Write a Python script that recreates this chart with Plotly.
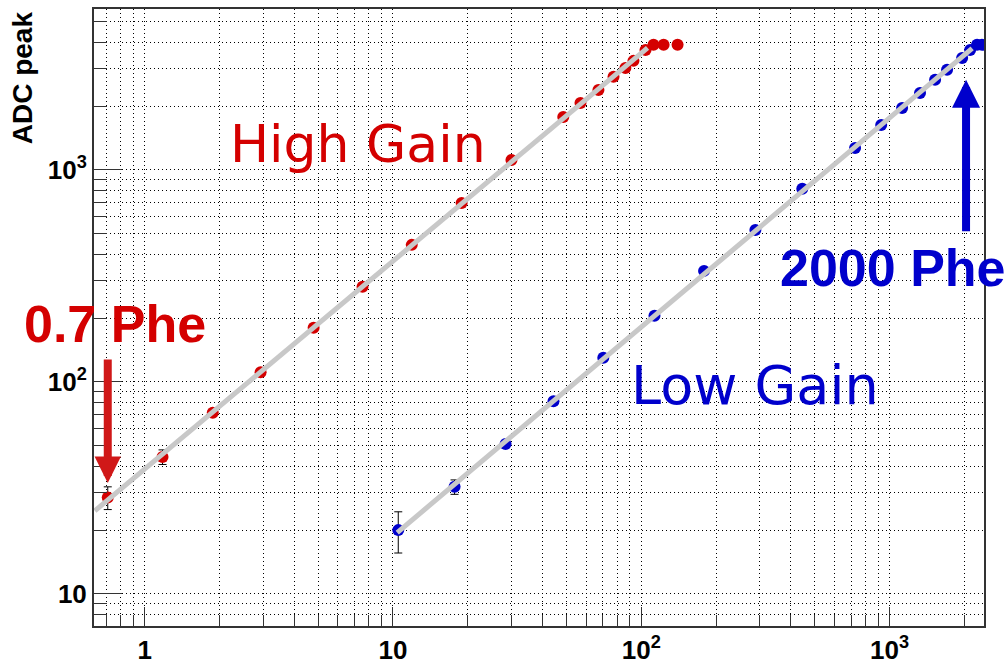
import numpy as np
import plotly.graph_objects as go

# ---------------- data ----------------
hg_phe = [0.71, 1.18, 1.88, 2.93, 4.79, 7.54, 11.9, 18.9, 30.0, 48.5, 56.9, 67.2,
          77.3, 86.3, 93.0, 104, 112, 123, 140]
hg_adc = [28.5, 44.3, 71.5, 111, 180, 281, 443, 698, 1113, 1778, 2070, 2382,
          2748, 3027, 3268, 3680, 3890, 3890, 3890]
hg_err = [3.5, 3.5, 1.5, 2, 2, 3, 4, 5, 6, 8, 8, 9, 10, 10, 10, 10, 10, 10, 10]

lg_phe = [10.5, 17.7, 28.4, 44.3, 70.3, 113, 179, 288, 445, 726, 925, 1123, 1326,
          1525, 1704, 1959, 2110, 2250, 2356, 2450]
lg_adc = [20.0, 32.0, 51.0, 81.0, 130, 205, 334, 521, 814, 1270, 1630, 1958, 2307,
          2660, 2965, 3370, 3680, 3890, 3890, 3890]
lg_err = [4.4, 2.5, 1.5, 2, 2, 3, 4, 5, 6, 8, 8, 9, 10, 10, 10, 10, 10, 10, 10, 10]

hg_fit_range = [0.63, 106]
lg_fit_range = [10.4, 2150]
hg_sat = 3800   # points at/above this ADC are saturated (excluded from fit)

x_ticks = [1, 10, 100, 1000]
x_ticktext = ["1", "10", "10<sup>2</sup>", "10<sup>3</sup>"]
y_ticks = [10, 100, 1000]
y_ticktext = ["10", "10<sup>2</sup>", "10<sup>3</sup>"]
x_range = [0.625, 2400]
y_range = [7.06, 5740]

RED = "#d40000"
BLUE = "#0000cc"
GRAY = "#c8c8c8"
GRID = "#000000"


def minor_vals(lo, hi):
    vals = []
    for e in range(int(np.floor(np.log10(lo))), int(np.ceil(np.log10(hi))) + 1):
        for k in range(2, 10):
            v = k * 10 ** e
            if lo <= v <= hi:
                vals.append(v)
    return vals


def fit_line(xs, ys, rng):
    xs = np.array(xs, float)
    ys = np.array(ys, float)
    m = ys < hg_sat
    p = np.polyfit(np.log10(xs[m]), np.log10(ys[m]), 1)
    fx = np.logspace(np.log10(rng[0]), np.log10(rng[1]), 50)
    return fx, 10 ** np.polyval(p, np.log10(fx))


fig = go.Figure()

for xs, ys, es, col in [(hg_phe, hg_adc, hg_err, RED), (lg_phe, lg_adc, lg_err, BLUE)]:
    fig.add_trace(go.Scatter(
        x=xs, y=ys, mode="markers",
        marker=dict(color=col, size=12, line=dict(width=0)),
        error_y=dict(type="data", array=es, color="black", thickness=1, width=4),
        showlegend=False, cliponaxis=True))

for xs, ys, rng in [(hg_phe, hg_adc, hg_fit_range), (lg_phe, lg_adc, lg_fit_range)]:
    fx, fy = fit_line(xs, ys, rng)
    fig.add_trace(go.Scatter(x=fx, y=fy, mode="lines",
                             line=dict(color=GRAY, width=5),
                             showlegend=False, hoverinfo="skip"))

L = np.log10
annots = [
    dict(x=L(7.2), y=L(1330), text="High Gain",
         font=dict(family="DejaVu Sans", size=52, color=RED)),
    dict(x=L(288), y=L(96), text="Low Gain",
         font=dict(family="DejaVu Sans", size=54, color=BLUE)),
    dict(x=L(0.757), y=L(188), text="0.7 Phe",
         font=dict(family="Liberation Sans", size=52, color=RED, weight="bold")),
    dict(x=L(1030), y=L(345), text="2000 Phe",
         font=dict(family="Liberation Sans", size=52, color=BLUE, weight="bold")),
]
for a in annots:
    fig.add_annotation(xref="x", yref="y", showarrow=False,
                       xanchor="center", yanchor="middle", **a)

# arrows
fig.add_annotation(xref="x", yref="y", x=L(0.71), y=L(33.4), ax=0, ay=-125,
                   text="", showarrow=True, arrowhead=2, arrowsize=0.66,
                   arrowwidth=8, arrowcolor="#d01818")
fig.add_annotation(xref="x", yref="y", x=L(2032), y=L(2660), ax=0, ay=153,
                   text="", showarrow=True, arrowhead=2, arrowsize=0.7,
                   arrowwidth=8, arrowcolor=BLUE)

# y axis title (ROOT style, top aligned)
fig.add_annotation(xref="paper", yref="paper", x=-0.08, y=1.0, text="ADC peak",
                   textangle=-90, showarrow=False, xanchor="center", yanchor="top",
                   font=dict(family="Liberation Sans", size=28, color="black",
                             weight="bold"))

axis_common = dict(
    type="log", showline=True, linecolor="#333333", linewidth=2, mirror=True,
    ticks="inside", tickcolor="#333333", tickwidth=1, automargin=False,
    showgrid=True, gridcolor=GRID, griddash="1px,3px", gridwidth=1,
    zeroline=False,
    tickfont=dict(family="Liberation Sans", size=26, color="black", weight="bold"),
    tickmode="array",
)

fig.update_xaxes(**axis_common, range=[L(x_range[0]), L(x_range[1])],
                 tickvals=x_ticks, ticktext=x_ticktext, ticklen=19,
                 minor=dict(tickmode="array", tickvals=minor_vals(*x_range),
                            ticks="inside", ticklen=11, tickcolor="#333333",
                            showgrid=True, gridcolor=GRID, griddash="1px,3px",
                            gridwidth=1))
fig.update_yaxes(**axis_common, range=[L(y_range[0]), L(y_range[1])],
                 tickvals=y_ticks, ticktext=y_ticktext, ticklen=28,
                 minor=dict(tickmode="array", tickvals=minor_vals(*y_range),
                            ticks="inside", ticklen=13, tickcolor="#333333",
                            showgrid=True, gridcolor=GRID, griddash="1px,3px",
                            gridwidth=1))

fig.update_layout(
    width=1008, height=664,
    margin=dict(l=94, r=24, t=9, b=38, autoexpand=False),
    paper_bgcolor="white", plot_bgcolor="white",
    showlegend=False,
)

fig.write_html("out.html",
               config={"displayModeBar": False},
               post_script="document.body.style.margin='0';"
                           "document.body.style.overflow='hidden';")
